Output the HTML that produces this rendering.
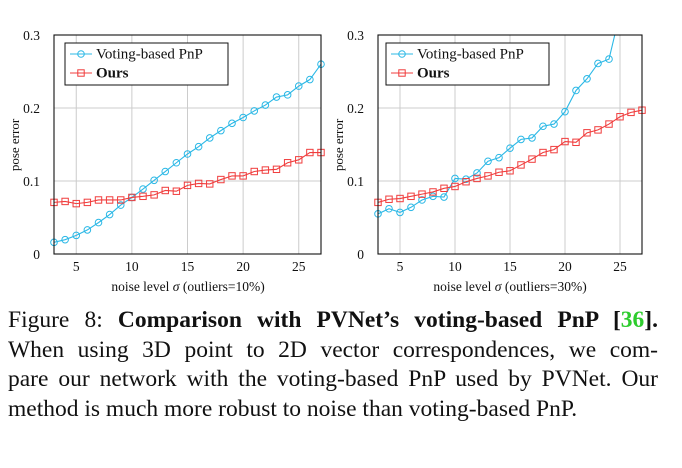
<!DOCTYPE html>
<html><head><meta charset="utf-8"><style>
body{margin:0;background:#fff;width:682px;height:468px;overflow:hidden;position:relative;font-family:"Liberation Serif",serif}
svg{position:absolute;left:0;top:0}
.cap{position:absolute;left:8px;width:650px;font-size:23.5px;line-height:29.5px;color:#111}
.j{text-align:justify;text-align-last:justify;white-space:nowrap}
</style></head><body>
<svg id="s" width="682" height="300" font-family="Liberation Serif, serif">
<g font-size="13.5" fill="#111">
<text x="40" y="40" text-anchor="end">0.3</text>
<text x="40" y="113" text-anchor="end">0.2</text>
<text x="40" y="186" text-anchor="end">0.1</text>
<text x="40" y="259" text-anchor="end">0</text>
<text x="364" y="40" text-anchor="end">0.3</text>
<text x="364" y="113" text-anchor="end">0.2</text>
<text x="364" y="186" text-anchor="end">0.1</text>
<text x="364" y="259" text-anchor="end">0</text>
<text transform="translate(19,145) rotate(-90)" text-anchor="middle" font-size="13">pose error</text>
<text transform="translate(343,145) rotate(-90)" text-anchor="middle" font-size="13">pose error</text>
<text x="188" y="291" text-anchor="middle" font-size="13.5">noise level <tspan font-style="italic">σ</tspan> (outliers=10%)</text>
<text x="510" y="291" text-anchor="middle" font-size="13.5">noise level <tspan font-style="italic">σ</tspan> (outliers=30%)</text>
</g>
</svg>
<div class="cap" style="top:306px"><div class="j">Figure 8: <b>Comparison with PVNet’s voting-based PnP [<span style="color:#2ecc2e">36</span>].</b></div>
<div class="j">When using 3D point to 2D vector correspondences, we com-</div>
<div class="j">pare our network with the voting-based PnP used by PVNet. Our</div>
<div>method is much more robust to noise than voting-based PnP.</div></div>
<script>
const s=document.getElementById('s'),NS='http://www.w3.org/2000/svg';
function el(t,a,p){const e=document.createElementNS(NS,t);for(const k in a)e.setAttribute(k,a[k]);(p||s).appendChild(e);return e}
const L={v:[.016,.0196,.0255,.033,.043,.054,.067,.0775,.089,.101,.113,.125,.137,.147,.159,.169,.179,.187,.196,.204,.215,.218,.230,.239,.260],
o:[.0707,.072,.069,.0707,.074,.074,.074,.0775,.079,.081,.087,.086,.094,.0967,.096,.102,.107,.107,.113,.115,.116,.125,.129,.139,.139]};
const R={v:[.055,.062,.057,.064,.074,.079,.078,.1035,.1025,.111,.127,.132,.145,.157,.159,.175,.178,.195,.224,.240,.261,.267,.33],
o:[.0707,.075,.076,.079,.082,.085,.090,.0925,.099,.1035,.107,.112,.114,.122,.130,.139,.143,.154,.153,.166,.170,.178,.188,.194,.197]};
function chart(x0,x1,D,lx,id){
 const y0=35,y1=254,X=v=>x0+(v-3)*(x1-x0)/24,Y=v=>y1-v*(y1-y0)/0.3;
 const c=el('clipPath',{id:id});
 el('rect',{x:x0-6,y:y0,width:x1-x0+12,height:y1-y0+6},c);
 for(let t=5;t<=25;t+=5){el('line',{x1:X(t),x2:X(t),y1:y0,y2:y1,stroke:'#ccc','stroke-width':1});
  const tx=el('text',{x:X(t),y:y1+17,'text-anchor':'middle','font-size':13.5,fill:'#111'});tx.textContent=t;}
 for(const v of [.1,.2])el('line',{x1:x0,x2:x1,y1:Y(v),y2:Y(v),stroke:'#ccc','stroke-width':1});
 const g=el('g',{'clip-path':`url(#${id})`});
 const ser=(arr,c,sq)=>{const pts=arr.map((v,i)=>[X(3+i),Y(v)]);
  el('polyline',{points:pts.map(p=>p.join(',')).join(' '),fill:'none',stroke:c,'stroke-width':1.1},g);
  pts.forEach(p=>{if(p[1]<y0-1)return;sq?el('rect',{x:p[0]-3.2,y:p[1]-3.2,width:6.4,height:6.4,fill:'none',stroke:c,'stroke-width':1},g):el('circle',{cx:p[0],cy:p[1],r:3.3,fill:'none',stroke:c,'stroke-width':1},g)});};
 ser(D.v,'#2bb8e6',0);ser(D.o,'#f03c3c',1);
 el('rect',{x:x0,y:y0,width:x1-x0,height:y1-y0,fill:'none',stroke:'#111','stroke-width':1.1});
 el('rect',{x:lx,y:43,width:163,height:42,fill:'#fff',stroke:'#111','stroke-width':1});
 el('line',{x1:lx+5,x2:lx+27,y1:54,y2:54,stroke:'#2bb8e6','stroke-width':1.1});el('circle',{cx:lx+16,cy:54,r:3.3,fill:'none',stroke:'#2bb8e6'});
 el('line',{x1:lx+5,x2:lx+27,y1:73,y2:73,stroke:'#f03c3c','stroke-width':1.1});el('rect',{x:lx+12.8,y:69.8,width:6.4,height:6.4,fill:'none',stroke:'#f03c3c'});
 let t=el('text',{x:lx+31,y:58.5,'font-size':15,fill:'#111'});t.textContent='Voting-based PnP';
 t=el('text',{x:lx+31,y:77.5,'font-size':15,'font-weight':'bold',fill:'#111'});t.textContent='Ours';
}
chart(54,321,L,65,'c1');chart(378,642,R,386,'c2');
</script>
</body></html>
